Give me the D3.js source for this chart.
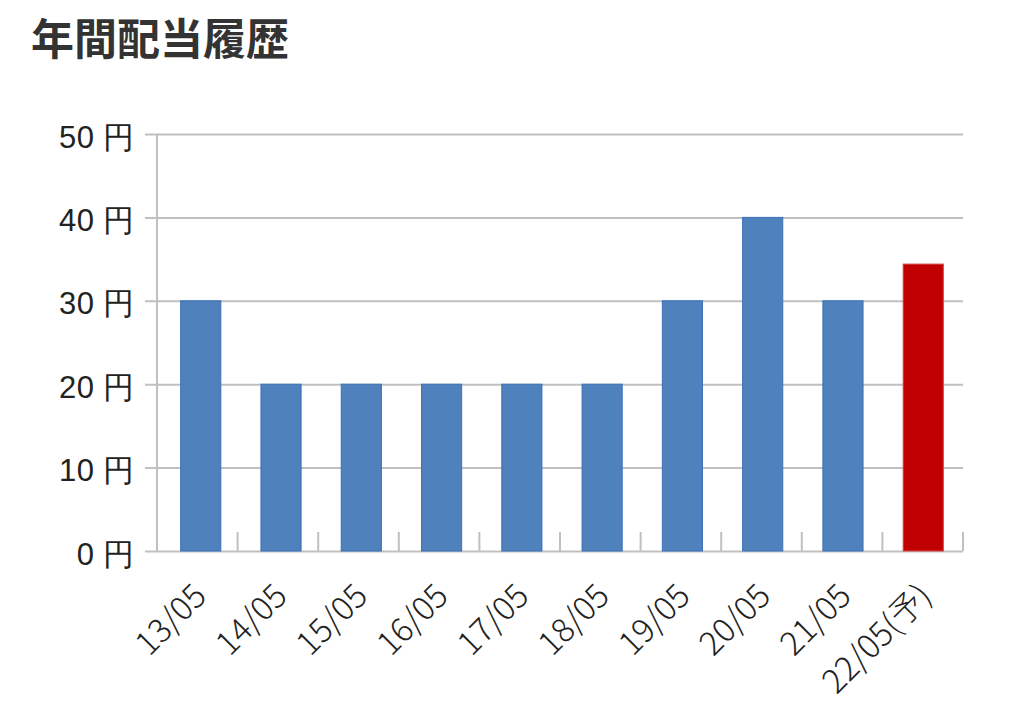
<!DOCTYPE html>
<html><head><meta charset="utf-8">
<script src="https://cdn.jsdelivr.net/npm/d3@7"></script>
<style>
body{margin:0;background:#fff;font-family:"Noto Sans CJK JP","Noto Sans",sans-serif;}
</style></head>
<body><div id="chart"></div>
<script>
const categories=["13/05","14/05","15/05","16/05","17/05","18/05","19/05","20/05","21/05","22/05(予)"];
const dividends=[30,20,20,20,20,20,30,40,30,34.4];
const forecast=[false,false,false,false,false,false,false,false,false,true];
const yTicks=[0,10,20,30,40,50];

const W=1024,H=715,m={top:134,right:61,bottom:164,left:157};
const svg=d3.select("#chart").append("svg").attr("width",W).attr("height",H);
svg.append("text").attr("x",31).attr("y",55).attr("font-size",43).attr("font-weight",700)
  .attr("fill","#333").text("年間配当履歴");
const g=svg.append("g").attr("transform",`translate(${m.left},${m.top})`);
const w=W-m.left-m.right,ih=H-m.top-m.bottom;
const x=d3.scaleBand().domain(categories).range([0,w]).paddingInner(0.5).paddingOuter(0.27);
const xb=d3.scaleBand().domain(categories).range([0,w]);
const y=d3.scaleLinear().domain([0,50]).range([ih,0]);

g.append("g").call(d3.axisLeft(y).tickValues(yTicks).tickSize(-w-12).tickPadding(10).tickFormat(d=>d+" 円"))
  .attr("transform","translate(-12,0)")
  .call(s=>s.select(".domain").remove())
  .call(s=>s.selectAll("line").attr("stroke","#c0c0c0").attr("stroke-width",2))
  .call(s=>s.selectAll("text").attr("fill","#222").attr("font-size",31).attr("font-weight",300)
    .attr("letter-spacing",0.5).attr("dy","0.42em"));
g.append("line").attr("x1",0).attr("x2",0).attr("y1",0).attr("y2",ih).attr("stroke","#c0c0c0").attr("stroke-width",2);
// category dividers
g.selectAll(".div").data(categories).join("line")
  .attr("x1",d=>xb(d)+xb.bandwidth()).attr("x2",d=>xb(d)+xb.bandwidth())
  .attr("y1",ih-19).attr("y2",ih).attr("stroke","#c0c0c0").attr("stroke-width",2);

g.selectAll(".bar").data(categories).join("rect")
  .attr("x",d=>x(d)+2).attr("width",x.bandwidth())
  .attr("y",(d,i)=>y(dividends[i])).attr("height",(d,i)=>ih-y(dividends[i]))
  .attr("fill",(d,i)=>forecast[i]?"#c00000":"#4f81bd")
  .attr("stroke",(d,i)=>forecast[i]?"#d84040":"#3b70b8").attr("stroke-width",1);

g.selectAll(".xl").data(categories).join("text")
  .attr("transform",d=>`translate(${xb(d)+xb.bandwidth()/2+11},${ih+47}) rotate(-45)`)
  .attr("text-anchor","end").attr("font-size",33).attr("font-weight",300)
  .attr("fill","#222").text(d=>d);
</script></body></html>
